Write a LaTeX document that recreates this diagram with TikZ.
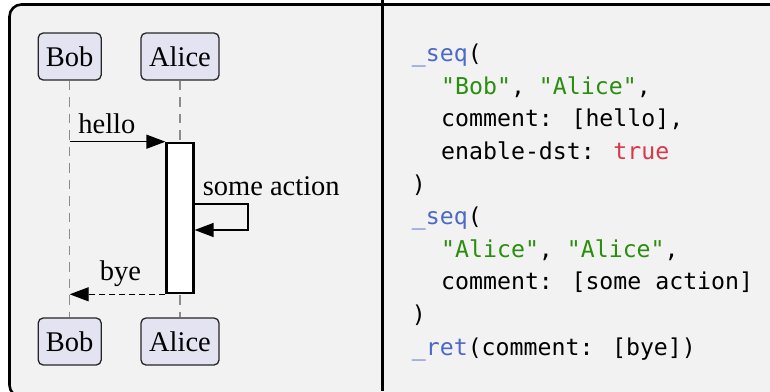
\documentclass[tikz,border=0pt]{standalone}
\usepackage{fontspec}
\setmainfont{Liberation Serif}
\newfontfamily\codefont{DejaVu Sans Mono}
\usetikzlibrary{arrows.meta,calc}

\definecolor{panelbg}{HTML}{F2F2F2}
\definecolor{partfill}{HTML}{E3E3F1}
\definecolor{lifegray}{HTML}{8C8C8C}
\definecolor{fnblue}{HTML}{4B69C6}
\definecolor{strgreen}{HTML}{298E0D}
\definecolor{kwred}{HTML}{D73948}

\tikzset{
  participant/.style={draw=black!85, fill=partfill, line width=1.3pt,
    rounded corners=5pt, minimum width=63pt, minimum height=47pt,
    inner sep=0pt, font=\fontsize{28.5}{30}\selectfont},
  lifeline/.style={draw=lifegray, line width=1.3pt,
    dash pattern=on 9.5pt off 7pt},
  msg/.style={line width=1.3pt, -{Triangle[length=19pt,width=14pt]}},
  msglabel/.style={font=\fontsize{28.5}{30}\selectfont, inner sep=0pt},
  codeline/.style={font=\codefont\fontsize{23.2}{30}\selectfont,
    anchor=base west, inner sep=0pt}
}

\begin{document}
\begin{tikzpicture}[x=1pt, y=-1pt]
  \useasboundingbox (0,0) rectangle (770,391);
  \clip (0,0) rectangle (770,391);

  % Frame
  \filldraw[fill=panelbg, line width=2.6pt, rounded corners=12pt]
    (800,4.5) -- (9.5,4.5) -- (9.5,397) -- (800,397);
  \draw[line width=3pt] (382.5,0) -- (382.5,391);

  % Participants
  \node[participant] (bobtop) at (69.7,56.5) {Bob};
  \node[participant, minimum width=78pt] (alicetop) at (180,56.5) {Alice};
  \node[participant] (bobbot) at (69.7,341.5) {Bob};
  \node[participant, minimum width=78pt] (alicebot) at (180,341.5) {Alice};

  % Lifelines
  \draw[lifeline] (bobtop.south) -- (bobbot.north);
  \draw[lifeline] (alicetop.south) -- (alicebot.north);

  % Activation
  \node[draw, fill=white, line width=2.6pt, minimum width=26.6pt,
    minimum height=150pt, inner sep=0pt, anchor=north] (act) at (180,141.7) {};

  % Messages
  \coordinate (hellostart) at (bobtop.south |- act.north west);
  \draw[msg] (hellostart) -- (act.north west)
    node[msglabel, anchor=base west] (hellolbl) at ($(hellostart)+(8,-8.5)$) {hello};

  \coordinate (selfout) at ($(act.north east)+(0,62.3)$);
  \coordinate (selfin) at ($(act.north east)+(0,88.3)$);
  \draw[msg] (selfout) -- ++(53.4,0) |- (selfin);
  \node[msglabel, anchor=base west] (actlbl) at ($(selfout)+(8,-9)$) {some action};

  \coordinate (byeend) at (bobtop.south |- act.south west);
  \draw[msg, dashed, dash pattern=on 6pt off 4pt] (act.south west) -- (byeend);
  \node[msglabel, anchor=base west] (byelbl) at ($(byeend)+(30,-13.4)$) {bye};

  % Code
  \node[codeline] (code1) at (411.7,61.7) {\color{fnblue}\_seq\color{black}(};
  \node[codeline] (code2) at (441,94.3) {\color{strgreen}"Bob"\color{black}, \color{strgreen}"Alice"\color{black},};
  \node[codeline] (code3) at (441,126.9) {comment: [hello],};
  \node[codeline] (code4) at (441,159.5) {enable-dst: \color{kwred}true};
  \node[codeline] (code5) at (411.7,192.1) {)};
  \node[codeline] (code6) at (411.7,224.7) {\color{fnblue}\_seq\color{black}(};
  \node[codeline] (code7) at (441,257.3) {\color{strgreen}"Alice"\color{black}, \color{strgreen}"Alice"\color{black},};
  \node[codeline] (code8) at (441,289.9) {comment: [some action]};
  \node[codeline] (code9) at (411.7,322.5) {)};
  \node[codeline] (code10) at (411.7,355.1) {\color{fnblue}\_ret\color{black}(comment: [bye])};
\end{tikzpicture}
\end{document}
